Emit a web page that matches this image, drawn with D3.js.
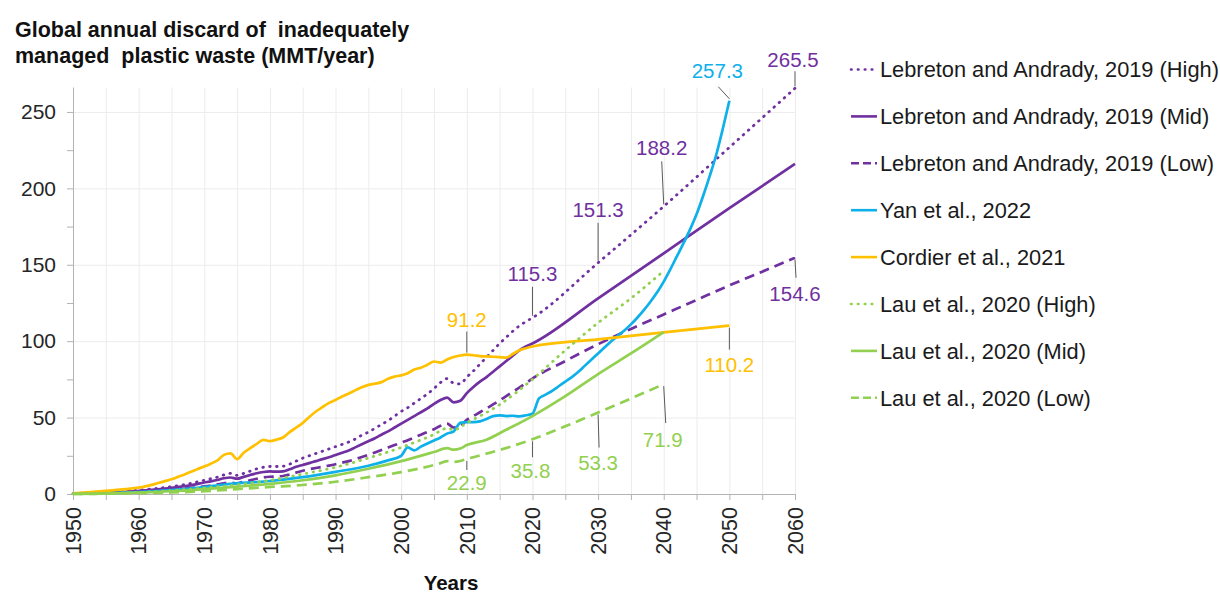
<!DOCTYPE html>
<html>
<head>
<meta charset="utf-8">
<script src="https://cdn.jsdelivr.net/npm/d3@7"></script>
<style>
  body { margin: 0; background: #fff; }
  svg { display: block; }
  text { font-family: "Liberation Sans", Arial, Helvetica, sans-serif; }
</style>
</head>
<body>
<svg id="chart" width="1220" height="593"></svg>
<script>
// Annual discard of inadequately managed plastic waste, MMT/year: [year, value]
const lebretonHigh = [
  [1950,0.3],[1952,0.6],[1955,1.0],[1958,1.8],[1960,2.5],[1962,3.3],[1965,4.8],[1968,7.0],
  [1970,9.0],[1971,10.0],[1972,11.0],[1973,12.5],[1974,13.5],[1975,12.2],[1976,13.5],[1977,15.0],
  [1978,16.5],[1979,17.5],[1980,18.0],[1981,18.0],[1982,18.2],[1983,19.5],[1984,21.5],[1985,23.5],
  [1986,25.0],[1987,26.5],[1988,28.0],[1989,29.5],[1990,31.0],[1991,32.5],[1992,34.0],[1993,36.0],
  [1994,38.5],[1995,40.5],[1996,43.0],[1997,45.5],[1998,48.0],[1999,51.0],[2000,54.0],[2001,56.5],
  [2002,59.5],[2003,62.5],[2004,65.5],[2005,69.0],[2006,73.0],[2007,75.5],[2008,72.5],[2009,72.0],
  [2010,76.5],[2011,80.5],[2012,85.0],[2013,89.5],[2014,94.0],[2015,98.5],[2016,102.5],[2017,106.5],
  [2018,110.0],[2019,112.8],[2020,115.3],[2030,151.3],[2040,188.2],[2050,226.8],[2060,265.5]
];
const lebretonMid = [
  [1950,0.2],[1952,0.4],[1955,0.8],[1958,1.4],[1960,2.0],[1962,2.7],[1965,4.0],[1968,5.8],
  [1970,7.5],[1971,8.3],[1972,9.2],[1973,10.3],[1974,10.8],[1975,10.0],[1976,11.2],[1977,12.4],
  [1978,13.6],[1979,14.4],[1980,14.8],[1981,14.6],[1982,14.8],[1983,16.2],[1984,17.8],[1985,19.0],
  [1986,20.2],[1987,21.5],[1988,22.8],[1989,24.0],[1990,25.5],[1991,27.0],[1992,28.5],[1993,30.5],
  [1994,32.5],[1995,34.5],[1996,36.5],[1997,38.8],[1998,41.0],[1999,43.5],[2000,46.0],[2001,48.5],
  [2002,51.0],[2003,53.5],[2004,56.0],[2005,59.0],[2006,61.5],[2007,63.0],[2008,60.0],[2009,61.0],
  [2010,66.0],[2011,70.0],[2012,73.5],[2013,76.5],[2014,80.0],[2015,83.5],[2016,87.0],[2017,90.5],
  [2018,94.0],[2019,96.5],[2020,98.5],[2030,128.0],[2040,157.5],[2050,187.0],[2060,216.0]
];
const lebretonLow = [
  [1950,0.2],[1955,0.6],[1960,1.4],[1965,2.8],[1968,4.0],[1970,5.0],[1971,5.6],[1972,6.3],
  [1973,7.0],[1974,7.4],[1975,7.0],[1976,8.0],[1977,9.0],[1978,10.0],[1979,10.8],[1980,11.3],
  [1981,11.5],[1982,11.8],[1983,12.8],[1984,14.0],[1985,15.2],[1986,16.2],[1987,17.0],[1988,17.8],
  [1989,18.6],[1990,19.5],[1991,20.5],[1992,21.5],[1993,22.8],[1994,24.2],[1995,25.6],[1996,27.2],
  [1997,28.8],[1998,30.4],[1999,32.0],[2000,33.6],[2001,35.2],[2002,37.0],[2003,38.8],[2004,40.6],
  [2005,42.4],[2006,44.6],[2007,46.0],[2008,43.5],[2009,44.5],[2010,48.5],[2011,51.0],[2012,53.5],
  [2013,56.0],[2014,58.6],[2015,61.2],[2016,64.0],[2017,66.8],[2018,69.6],[2019,72.5],[2020,75.5],
  [2025,87.0],[2030,98.0],[2035,108.0],[2040,117.5],[2045,127.0],[2050,136.5],[2055,145.5],[2060,154.6]
];
const yan = [
  [1950,0.2],[1955,0.5],[1960,1.2],[1965,2.5],[1970,4.6],[1973,6.2],[1975,7.0],[1978,7.8],
  [1980,8.5],[1985,11.0],[1990,14.5],[1995,18.5],[1998,22.0],[2000,25.0],[2001,30.5],[2002,28.5],
  [2003,31.0],[2004,33.0],[2005,35.0],[2006,37.0],[2007,39.5],[2008,41.0],[2009,46.5],[2010,47.0],
  [2011,47.0],[2012,47.5],[2013,49.0],[2014,51.0],[2015,51.5],[2016,51.0],[2017,51.2],[2018,50.8],
  [2019,51.5],[2020,52.5],[2021,62.5],[2022,65.0],[2023,67.5],[2024,70.5],[2025,73.5],[2026,76.5],
  [2027,80.0],[2028,84.0],[2029,88.0],[2030,92.0],[2031,96.0],[2032,100.0],[2033,103.5],[2034,107.0],
  [2035,111.0],[2036,115.5],[2037,120.5],[2038,126.0],[2039,132.0],[2040,139.0],[2041,147.0],
  [2042,155.5],[2043,164.0],[2044,173.0],[2045,183.0],[2046,195.0],[2047,208.0],[2048,222.0],
  [2049,239.0],[2050,257.3]
];
const cordier = [
  [1950,0.5],[1952,1.1],[1954,1.7],[1956,2.4],[1958,3.2],[1960,4.2],[1961,5.0],[1962,6.0],
  [1963,7.2],[1964,8.4],[1965,9.6],[1966,11.2],[1967,12.8],[1968,14.5],[1969,16.4],[1970,18.0],
  [1971,19.8],[1972,22.0],[1973,25.6],[1974,26.6],[1975,22.8],[1976,27.0],[1977,30.0],[1978,32.8],
  [1979,35.4],[1980,34.6],[1981,35.6],[1982,37.0],[1983,40.5],[1984,43.4],[1985,46.5],[1986,50.4],
  [1987,54.0],[1988,56.8],[1989,59.6],[1990,61.5],[1991,63.8],[1992,65.8],[1993,67.8],[1994,69.8],
  [1995,71.4],[1996,72.2],[1997,73.2],[1998,75.4],[1999,76.8],[2000,77.6],[2001,79.0],[2002,81.5],
  [2003,82.6],[2004,84.6],[2005,86.7],[2006,86.0],[2007,88.0],[2008,89.6],[2009,90.6],[2010,91.2],
  [2011,90.8],[2012,90.2],[2013,90.0],[2014,89.8],[2015,89.6],[2016,89.2],[2017,91.6],[2018,94.0],
  [2019,95.4],[2020,96.5],[2030,101.2],[2040,105.8],[2050,110.2]
];
const lauHigh = [
  [1950,0.1],[1955,0.4],[1960,1.0],[1965,2.2],[1970,4.0],[1975,6.0],[1980,9.0],[1985,13.0],
  [1990,17.5],[1995,23.5],[2000,30.5],[2005,39.0],[2007,43.0],[2008,42.0],[2010,46.5],[2015,58.5],
  [2020,75.0],[2025,94.0],[2030,112.0],[2035,128.0],[2040,146.0]
];
const lauMid = [
  [1950,0.1],[1955,0.3],[1960,0.9],[1965,1.8],[1970,3.2],[1975,4.8],[1980,6.6],[1985,9.0],
  [1990,12.2],[1995,16.5],[2000,21.5],[2005,27.5],[2007,30.0],[2008,29.0],[2009,29.8],[2010,32.0],
  [2013,35.5],[2016,42.0],[2020,51.0],[2025,64.0],[2030,78.5],[2035,92.0],[2040,106.0]
];
const lauLow = [
  [1950,0.1],[1955,0.2],[1960,0.5],[1965,1.0],[1970,1.8],[1975,3.2],[1980,4.6],[1985,5.9],
  [1990,8.0],[1995,11.0],[2000,14.3],[2005,19.0],[2006,20.2],[2007,21.5],[2008,21.0],[2009,21.6],
  [2010,22.9],[2015,28.8],[2020,35.8],[2025,44.3],[2030,53.3],[2035,62.5],[2040,71.9]
];

const yTicks = [0, 50, 100, 150, 200, 250];
const xTickYears = [1950, 1960, 1970, 1980, 1990, 2000, 2010, 2020, 2030, 2040, 2050, 2060];
const titleLines = ["Global annual discard of  inadequately", "managed  plastic waste (MMT/year)"];
const xTitle = "Years";

const PURPLE = "#7030A0", CYAN = "#0EB0EA", GOLD = "#FFC000", GREEN = "#92D050";
const DOT = "0.6 6.3", DASH = "10 6";

const series = [
  { name: "Lebreton and Andrady, 2019 (High)", data: lebretonHigh, color: PURPLE, dash: DOT },
  { name: "Lebreton and Andrady, 2019 (Mid)",  data: lebretonMid,  color: PURPLE, dash: null },
  { name: "Lebreton and Andrady, 2019 (Low)",  data: lebretonLow,  color: PURPLE, dash: DASH },
  { name: "Yan et al., 2022",                  data: yan,          color: CYAN,   dash: null },
  { name: "Cordier et al., 2021",              data: cordier,      color: GOLD,   dash: null },
  { name: "Lau et al., 2020 (High)",           data: lauHigh,      color: GREEN,  dash: DOT },
  { name: "Lau et al., 2020 (Mid)",            data: lauMid,       color: GREEN,  dash: null },
  { name: "Lau et al., 2020 (Low)",            data: lauLow,       color: GREEN,  dash: DASH }
];

// Value callouts: which series/year, and where the leader line and text sit relative to the point
const callouts = [
  { data: lebretonHigh, year: 2020, color: PURPLE, lead: [0, -31], text: [0, -37] },
  { data: lebretonHigh, year: 2030, color: PURPLE, lead: [0, -40], text: [0, -46] },
  { data: lebretonHigh, year: 2040, color: PURPLE, lead: [-2, -45], text: [-2, -51] },
  { data: lebretonHigh, year: 2060, color: PURPLE, lead: [0, -17], text: [-2, -21] },
  { data: lebretonLow,  year: 2060, color: PURPLE, lead: [1, 20],  text: [0, 43] },
  { data: yan,          year: 2050, color: CYAN,   lead: [-11, -14], text: [-12, -23] },
  { data: cordier,      year: 2010, color: GOLD,   lead: [0, -23], text: [0, -28] },
  { data: cordier,      year: 2050, color: GOLD,   lead: [0, 24],  text: [0, 46] },
  { data: lauLow,       year: 2010, color: GREEN,  lead: [0, 11],  text: [0, 31] },
  { data: lauLow,       year: 2020, color: GREEN,  lead: [0, 18],  text: [-2, 39] },
  { data: lauLow,       year: 2030, color: GREEN,  lead: [1, 35],  text: [0, 57] },
  { data: lauLow,       year: 2040, color: GREEN,  lead: [2, 39],  text: [-1, 63] }
];

const svg = d3.select("#chart");
const x = d3.scaleLinear().domain([1950, 2060]).range([73, 795]);
const y = d3.scaleLinear().domain([0, 266]).range([494, 87.5]);

// Title
svg.append("g").selectAll("text").data(titleLines).join("text")
  .attr("x", 15).attr("y", (d, i) => 37 + i * 25.5)
  .attr("font-size", 21.5).attr("font-weight", "bold").attr("fill", "#111")
  .attr("xml:space", "preserve").style("white-space", "pre")
  .text(d => d);

// Gridlines
const grid = svg.append("g").attr("stroke", "#ececec").attr("stroke-width", 1);
grid.selectAll("line.v").data(d3.range(1955, 2061, 5)).join("line").attr("class", "v")
  .attr("x1", d => x(d) + 0.5).attr("x2", d => x(d) + 0.5)
  .attr("y1", y(0)).attr("y2", y.range()[1]);
grid.selectAll("line.h").data(yTicks.slice(1)).join("line").attr("class", "h")
  .attr("x1", x(1950)).attr("x2", x(2060))
  .attr("y1", d => y(d) + 0.5).attr("y2", d => y(d) + 0.5);

// Y axis
const yAxis = svg.append("g").attr("transform", `translate(${x(1950)},0)`)
  .call(d3.axisLeft(y).tickValues(d3.range(0, 251, 25)).tickSize(6).tickPadding(11)
    .tickFormat(d => yTicks.includes(d) ? d : ""));
yAxis.select(".domain").attr("stroke", "#b3b3b3").attr("d", `M0.5,${y(0)}V${y.range()[1]}`);
yAxis.selectAll(".tick line").attr("stroke", "#b3b3b3");
yAxis.selectAll(".tick text").attr("font-size", 21).attr("fill", "#262626")
  .attr("font-family", "Liberation Sans, Arial, sans-serif");

// X axis
const xAxis = svg.append("g").attr("transform", `translate(0,${y(0)})`)
  .call(d3.axisBottom(x).tickValues(d3.range(1950, 2061, 5)).tickSize(6).tickFormat(""));
xAxis.select(".domain").attr("stroke", "#b3b3b3").attr("d", `M${x(1950)},0.5H${x(2060)}`);
xAxis.selectAll(".tick line").attr("stroke", "#b3b3b3");
svg.append("g").selectAll("text").data(xTickYears).join("text")
  .attr("transform", d => `translate(${x(d)},507) rotate(-90)`)
  .attr("text-anchor", "end").attr("dy", "0.36em")
  .attr("font-size", 21.5).attr("fill", "#262626")
  .text(d => d);
svg.append("text").attr("x", 451).attr("y", 590).attr("text-anchor", "middle")
  .attr("font-size", 20.5).attr("font-weight", "bold").attr("fill", "#111").text(xTitle);

// Series lines
const line = d3.line().x(d => x(d[0])).y(d => y(d[1])).curve(d3.curveMonotoneX);
svg.append("g").attr("fill", "none").selectAll("path").data(series).join("path")
  .attr("d", d => line(d.data))
  .attr("stroke", d => d.color)
  .attr("stroke-width", d => d.dash === DOT ? 2.8 : 2.7)
  .attr("stroke-dasharray", d => d.dash)
  .attr("stroke-linecap", d => d.dash === DOT ? "round" : "butt")
  .attr("stroke-linejoin", "round");

// Callouts with leader lines
const fmt = d3.format(".1f");
const cg = svg.append("g");
callouts.forEach(c => {
  const v = c.data.find(p => p[0] === c.year)[1];
  const px = x(c.year), py = y(v);
  const sign = Math.sign(c.lead[1]);
  cg.append("line")
    .attr("x1", px).attr("y1", py + sign * 2)
    .attr("x2", px + c.lead[0]).attr("y2", py + c.lead[1])
    .attr("stroke", "#595959").attr("stroke-width", 1);
  cg.append("text")
    .attr("x", px + c.text[0]).attr("y", py + c.text[1])
    .attr("text-anchor", "middle").attr("font-size", 20.5).attr("fill", c.color)
    .text(fmt(v));
});

// Legend
const legend = svg.append("g").selectAll("g").data(series).join("g")
  .attr("transform", (d, i) => `translate(851,${69.5 + i * 46.9})`);
legend.append("line").attr("x1", 0).attr("x2", 26).attr("y1", 0).attr("y2", 0)
  .attr("stroke", d => d.color).attr("stroke-width", 2.6)
  .attr("stroke-dasharray", d => d.dash === DASH ? "8 4" : d.dash)
  .attr("stroke-linecap", d => d.dash === DOT ? "round" : "butt");
legend.append("text").attr("x", 29).attr("y", 0).attr("dy", "0.36em")
  .attr("font-size", 21.8).attr("fill", "#1a1a1a").text(d => d.name);
</script>
</body>
</html>
